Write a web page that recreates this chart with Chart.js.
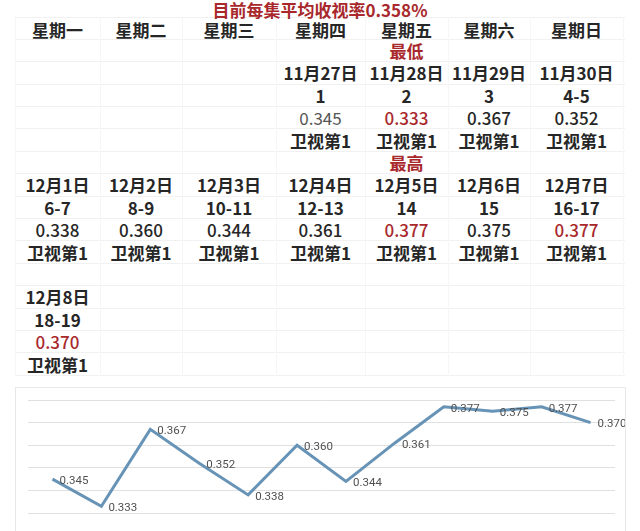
<!DOCTYPE html>
<html>
<head>
<meta charset="utf-8">
<script src="https://cdn.jsdelivr.net/npm/chart.js@4"></script>
<style>
  html, body { margin: 0; padding: 0; background: #fff; }
  body { width: 640px; height: 531px; overflow: hidden; position: relative;
         font-family: "Noto Sans CJK SC", "Noto Sans", sans-serif; }
  .cell { position: absolute; transform: translate(-50%, -50%); white-space: nowrap;
          font-size: 17px; font-weight: 600; color: #262626; line-height: 1; }
  .hl { position: absolute; height: 1px; background: #f1f1f1; }
  .vl { position: absolute; width: 1px; background: #f6f6f6; }
  #chartBox { position: absolute; left: 15px; top: 387px; width: 609px; height: 150px;
              border: 1px solid #e8e8e8; background: #fff; }
  #chartWrap { position: absolute; left: 0; top: 0; width: 609px; height: 143px; }
</style>
</head>
<body>
<div id="table"></div>
<div id="chartBox"><div id="chartWrap"><canvas id="ratingChart"></canvas></div></div>
<script>
// 数据
const title = '目前每集平均收视率0.358%';
const weekdays = ['星期一', '星期二', '星期三', '星期四', '星期五', '星期六', '星期日'];
const dates = ['11月27日', '11月28日', '11月29日', '11月30日', '12月1日', '12月2日',
               '12月3日', '12月4日', '12月5日', '12月6日', '12月7日', '12月8日'];
const episodes = ['1', '2', '3', '4-5', '6-7', '8-9', '10-11', '12-13', '14', '15', '16-17', '18-19'];
const ratings = [0.345, 0.333, 0.367, 0.352, 0.338, 0.360, 0.344, 0.361, 0.377, 0.375, 0.377, 0.370];
const ranks = ['卫视第1', '卫视第1', '卫视第1', '卫视第1', '卫视第1', '卫视第1',
               '卫视第1', '卫视第1', '卫视第1', '卫视第1', '卫视第1', '卫视第1'];
const notes = ['', '最低', '', '', '', '', '', '', '最高', '', '', ''];
const firstWeekday = 3; // 11月27日 是星期四

// 样式
const red = '#a8282c';
const redValues = [1, 8, 10, 11];
const colEdges = [15, 100, 182, 276, 365, 448, 530, 623];
const rowTop = 50, rowH = 22.4;

const table = document.getElementById('table');
function put(text, x, y, extra) {
    const d = document.createElement('div');
    d.className = 'cell';
    d.textContent = text;
    d.style.left = x + 'px';
    d.style.top = y + 'px';
    if (extra) Object.assign(d.style, extra);
    table.appendChild(d);
}
function line(cls, x, y, w, h) {
    const d = document.createElement('div');
    d.className = cls;
    d.style.left = x + 'px'; d.style.top = y + 'px';
    if (w) d.style.width = w + 'px';
    if (h) d.style.height = h + 'px';
    table.appendChild(d);
}

// 网格线
line('hl', 15, 17, 610);
for (let k = -1; k < 15; k++) line('hl', 15, Math.round(rowTop + rowH * k + rowH / 2), 610);
colEdges.forEach(x => line('vl', x, 17, 0, 360));

const colCenter = c => (colEdges[c] + colEdges[c + 1]) / 2;

put(title, 320, 9, { color: red });
weekdays.forEach((w, c) => put(w, colCenter(c), 29));

dates.forEach((d, i) => {
    const slot = i + firstWeekday;
    const c = slot % 7, wk = Math.floor(slot / 7);
    const x = colCenter(c);
    const y0 = rowTop + wk * 5 * rowH;
    if (notes[i]) put(notes[i], x, y0, { color: red });
    put(d, x, y0 + rowH);
    put(episodes[i], x, y0 + rowH * 2);
    const st = { fontWeight: '500' };
    if (redValues.includes(i)) st.color = red;
    if (i === 0) { st.color = '#555'; st.fontWeight = '400'; }
    put(ratings[i].toFixed(3), x, y0 + rowH * 3, st);
    put(ranks[i], x, y0 + rowH * 4);
});

// 数值标签
const valueLabels = {
    id: 'valueLabels',
    afterDatasetsDraw(chart) {
        const ctx = chart.ctx;
        const meta = chart.getDatasetMeta(0);
        ctx.save();
        ctx.font = '11.5px Roboto, "Liberation Sans", sans-serif';
        ctx.fillStyle = '#505050';
        ctx.textAlign = 'left';
        ctx.textBaseline = 'middle';
        meta.data.forEach((pt, i) => {
            ctx.fillText(ratings[i].toFixed(3), pt.x + 7, pt.y + 2);
        });
        ctx.restore();
    }
};

const ctx = document.getElementById('ratingChart').getContext('2d');
new Chart(ctx, {
    type: 'line',
    data: {
        labels: dates,
        datasets: [{
            data: ratings,
            borderColor: '#6793b6',
            borderWidth: 3,
            pointRadius: 0,
            tension: 0,
            fill: false
        }]
    },
    options: {
        responsive: true,
        maintainAspectRatio: false,
        animation: false,
        layout: { padding: { left: 12, right: 10, top: 12, bottom: 18 } },
        plugins: { legend: { display: false }, tooltip: { enabled: false } },
        scales: {
            x: { display: false, offset: true },
            y: {
                min: 0.33,
                max: 0.38,
                ticks: { display: false, stepSize: 0.01 },
                grid: { color: '#e0e0e0', drawTicks: false },
                border: { display: false }
            }
        }
    },
    plugins: [valueLabels]
});
</script>
</body>
</html>
